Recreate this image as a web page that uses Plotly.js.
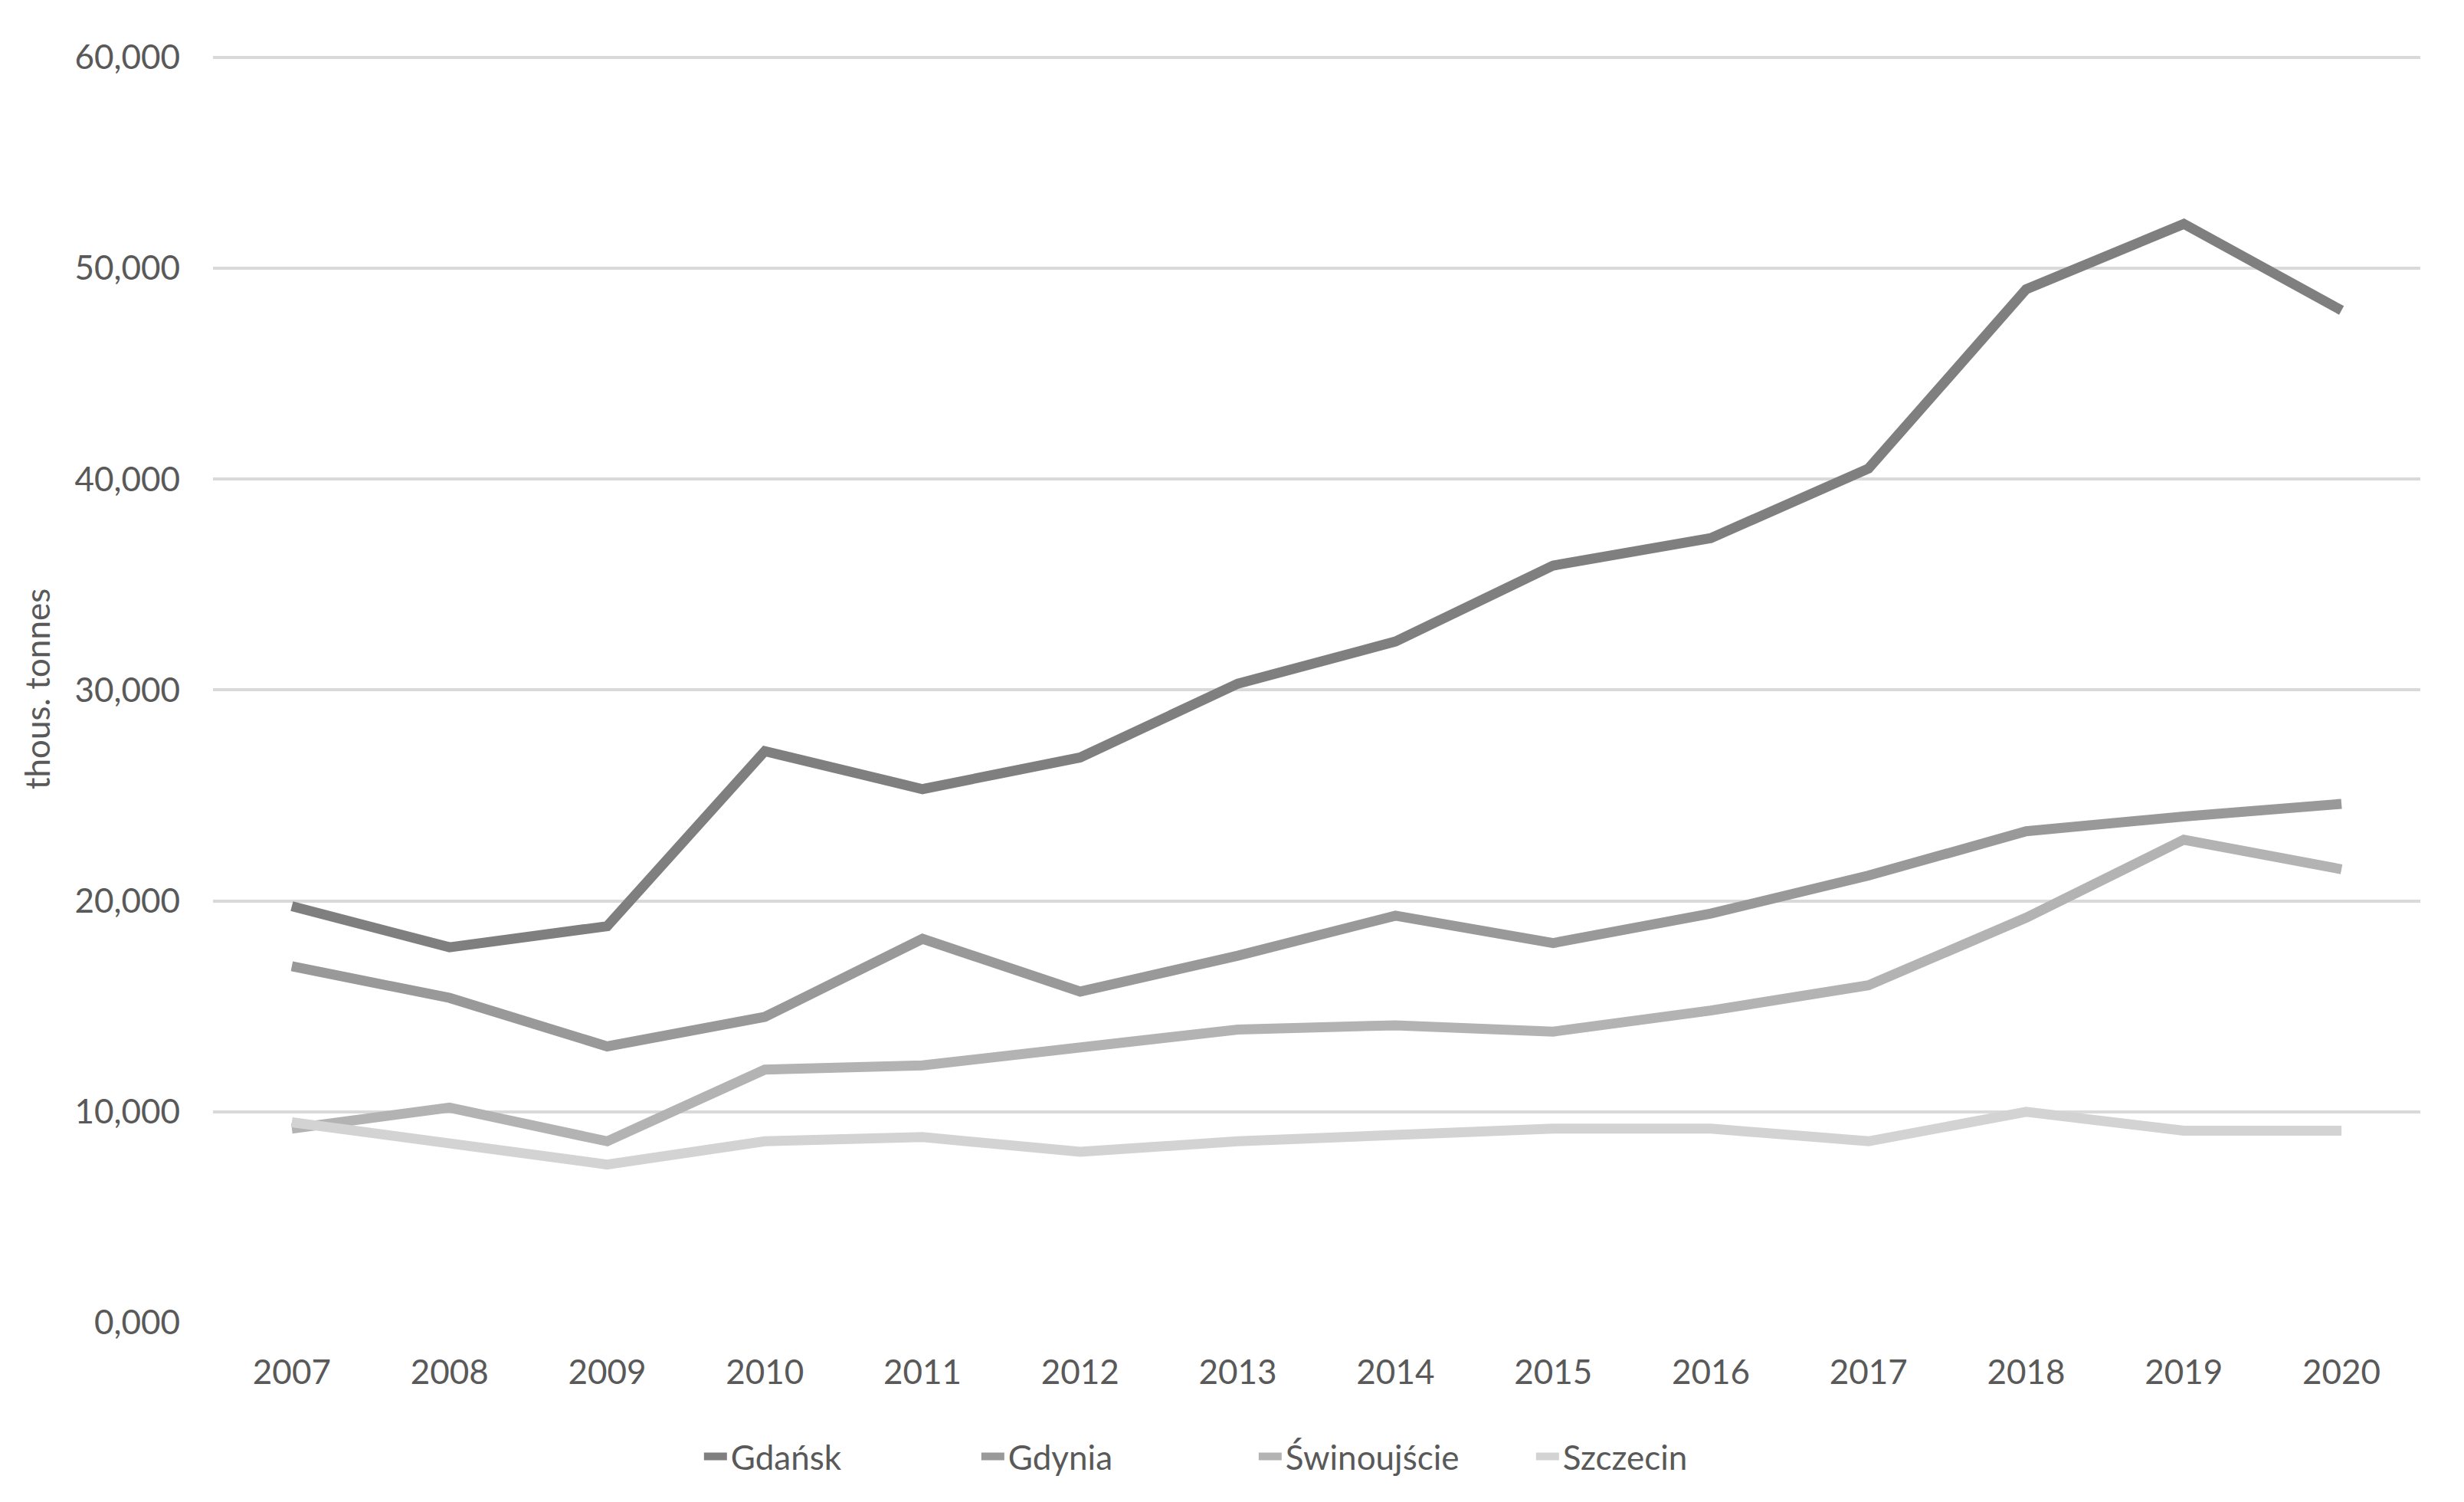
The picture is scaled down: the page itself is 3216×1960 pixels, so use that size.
<!DOCTYPE html>
<html>
<head>
<meta charset="utf-8">
<script src="https://cdn.plot.ly/plotly-3.0.1.min.js"></script>
<style>html,body{margin:0;padding:0;background:#fff;}#chart{width:3216px;height:1960px;}</style>
</head>
<body>
<div id="chart"></div>
<script>
const years = ["2007","2008","2009","2010","2011","2012","2013","2014","2015","2016","2017","2018","2019","2020"];
const gdansk = [19750,17800,18800,27100,25300,26800,30300,32300,35900,37200,40500,49000,52100,48000];
const gdynia = [16900,15400,13100,14500,18200,15700,17400,19300,18000,19400,21200,23300,24000,24600];
const swinoujscie = [9200,10200,8600,12000,12200,13000,13900,14100,13800,14800,16000,19200,22900,21500];
const szczecin = [9500,8500,7500,8600,8800,8100,8600,8900,9200,9200,8600,10000,9100,9100];
const seriesNames = ["Gdańsk","Gdynia","Świnoujście","Szczecin"];
const seriesColors = ["#7f7f7f","#999999","#b3b3b3","#d3d3d3"];
const yTickVals = [0,10000,20000,30000,40000,50000,60000];
const yTickText = ["0,000","10,000","20,000","30,000","40,000","50,000","60,000"];
const yTitle = "thous. tonnes";

const allSeries = [gdansk, gdynia, swinoujscie, szczecin];
const traces = allSeries.map((vals, i) => ({
  type: 'scatter', mode: 'lines', x: years, y: vals, name: seriesNames[i],
  line: {color: seriesColors[i], width: 13}
}));

const font = {family: 'Lato, "Open Sans", sans-serif', size: 44, color: '#595959'};
const layout = {
  width: 3216, height: 1960,
  margin: {l: 278, r: 57, t: 72, b: 234, autoexpand: false},
  paper_bgcolor: '#ffffff', plot_bgcolor: '#ffffff',
  font: font,
  showlegend: true,
  legend: {orientation: 'h', x: 0.472, xanchor: 'center', y: -0.1057, yanchor: 'middle',
           font: font, itemwidth: 30, entrywidth: 317, entrywidthmode: 'pixels', traceorder: 'normal'},
  xaxis: {type: 'category', range: [-0.5, 13.5], showgrid: false, zeroline: false, showline: false,
          ticks: '', ticklabelstandoff: 35, tickangle: 0, automargin: false, tickfont: font},
  yaxis: {range: [0, 60100], tickvals: yTickVals, ticktext: yTickText, showgrid: true,
          gridcolor: '#d9d9d9', gridwidth: 4, zeroline: false, showline: false, ticks: '',
          ticklabelstandoff: 42, tickfont: font, automargin: false,
          title: {text: yTitle, font: font, standoff: 18}},
};
Plotly.newPlot('chart', traces, layout, {staticPlot: true, displayModeBar: false});
</script>
</body>
</html>
